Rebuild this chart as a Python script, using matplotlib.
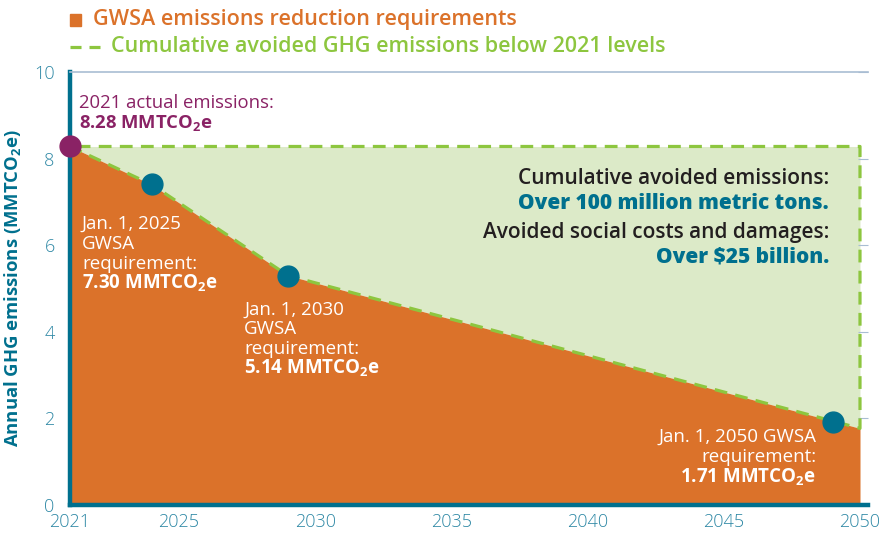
import matplotlib
matplotlib.use("Agg")
import matplotlib.pyplot as plt
from matplotlib.patches import Rectangle
from matplotlib.lines import Line2D

plt.rcParams['font.family'] = ['Open Sans', 'DejaVu Sans']
plt.rcParams['mathtext.fontset'] = 'custom'
plt.rcParams['mathtext.rm'] = 'Open Sans'
plt.rcParams['mathtext.bf'] = 'Open Sans:bold'

########## Data ##########
# GWSA requirement path (MMTCO2e)
req_years = [2021, 2024, 2029, 2050]
req_vals = [8.28, 7.40, 5.30, 1.77]
baseline_2021 = 8.28

# marker dots as drawn
dot_years = [2021, 2024, 2029, 2049]
dot_vals = [8.28, 7.42, 5.30, 1.92]

xticks = [2021, 2025, 2030, 2035, 2040, 2045, 2050]
yticks = [0, 2, 4, 6, 8, 10]

########## Colours ##########
ORANGE = '#DB722A'
LIGHTGREEN = '#DCEAC8'
GREEN = '#8DC63F'
TEAL = '#00708E'
TICKTEAL = '#2E88A5'
PURPLE = '#8A2265'
DARK = '#231F20'

fig = plt.figure(figsize=(8.93, 5.33), dpi=100)
ax = fig.add_axes([70/893, 1-505/533, 798/893, 433/533])

ax.fill_between(req_years, req_vals, baseline_2021, color=LIGHTGREEN, lw=0, zorder=1)
ax.fill_between(req_years, req_vals, 0, color=ORANGE, lw=0, zorder=2)

# dashed outline of the avoided area
outline_x = req_years + [req_years[-1], req_years[0]]
outline_y = req_vals + [baseline_2021, baseline_2021]
ax.plot(outline_x, outline_y, color=GREEN, lw=2.3, dashes=(4, 2.6), zorder=3)

ax.plot(dot_years[1:], dot_vals[1:], 'o', color=TEAL, ms=15, zorder=5, clip_on=False)
ax.plot(dot_years[0], dot_vals[0], 'o', color=PURPLE, ms=15, zorder=6, clip_on=False)

ax.set_xlim(2021, 2050 + 8/27.24)
ax.set_ylim(0, 10)
ax.set_xticks(xticks)
ax.set_yticks(yticks)
ax.tick_params(axis='x', length=0, pad=6, labelsize=13, labelcolor=TICKTEAL)
ax.tick_params(axis='y', left=False, right=True, direction='in', length=7,
               color='#A9BDD3', pad=11, labelsize=13, labelcolor=TICKTEAL)
for lab in ax.get_xticklabels() + ax.get_yticklabels():
    lab.set_fontweight('light')

ax.spines['left'].set_color(TEAL)
ax.spines['left'].set_linewidth(3.2)
ax.spines['bottom'].set_color(TEAL)
ax.spines['bottom'].set_linewidth(3.2)
ax.spines['top'].set_color('#A9BDD3')
ax.spines['top'].set_linewidth(1.2)
ax.spines['right'].set_visible(False)

ax.set_ylabel(r'Annual GHG emissions (MMTCO$_\mathbf{2}$e)', color=TEAL,
              fontsize=13.3, fontweight='bold', labelpad=8)

########## Annotations ##########
ax.text(2021.33, 9.28, '2021 actual emissions:', color=PURPLE, fontsize=13.3, va='center')
ax.text(2021.33, 8.82, r'8.28 MMTCO$_\mathbf{2}$e', color=PURPLE, fontsize=13.3,
        fontweight='bold', va='center')

for y, s, w in [(6.49, 'Jan. 1, 2025', 'normal'), (6.03, 'GWSA', 'normal'),
                (5.57, 'requirement:', 'normal'),
                (5.13, r'7.30 MMTCO$_\mathbf{2}$e', 'bold')]:
    ax.text(2021.44, y, s, color='white', fontsize=13.5, fontweight=w, va='center', zorder=7)

for y, s, w in [(4.50, 'Jan. 1, 2030', 'normal'), (4.06, 'GWSA', 'normal'),
                (3.60, 'requirement:', 'normal'),
                (3.16, r'5.14 MMTCO$_\mathbf{2}$e', 'bold')]:
    ax.text(2027.39, y, s, color='white', fontsize=13.5, fontweight=w, va='center', zorder=7)

for y, s, w in [(1.57, 'Jan. 1, 2050 GWSA', 'normal'), (1.11, 'requirement:', 'normal'),
                (0.65, r'1.71 MMTCO$_\mathbf{2}$e', 'bold')]:
    ax.text(2048.39, y, s, color='white', fontsize=13.5, fontweight=w, va='center',
            ha='right', zorder=7)

for y, s, c, w in [(7.55, 'Cumulative avoided emissions:', DARK, 'semibold'),
                   (6.97, 'Over 100 million metric tons.', TEAL, 'heavy'),
                   (6.30, 'Avoided social costs and damages:', DARK, 'semibold'),
                   (5.73, 'Over $25 billion.', TEAL, 'heavy')]:
    ax.text(2048.86, y, s, color=c, fontsize=15, fontweight=w, va='center', ha='right', zorder=7)

########## Legend (drawn by hand) ##########
fig.add_artist(Rectangle((70/893, 1-26/533), 11/893, 12/533, color=ORANGE,
                         transform=fig.transFigure))
fig.text(93/893, 1-20/533, 'GWSA emissions reduction requirements', color=ORANGE,
         fontsize=15.5, fontweight='semibold', va='center')
fig.add_artist(Line2D([70/893, 100/893], [1-47/533, 1-47/533], color=GREEN, lw=2.3,
                      dashes=(3.45, 2.5), transform=fig.transFigure))
fig.text(111/893, 1-47/533, 'Cumulative avoided GHG emissions below 2021 levels', color=GREEN,
         fontsize=15.5, fontweight='semibold', va='center')

fig.savefig('out.png', dpi=100)
